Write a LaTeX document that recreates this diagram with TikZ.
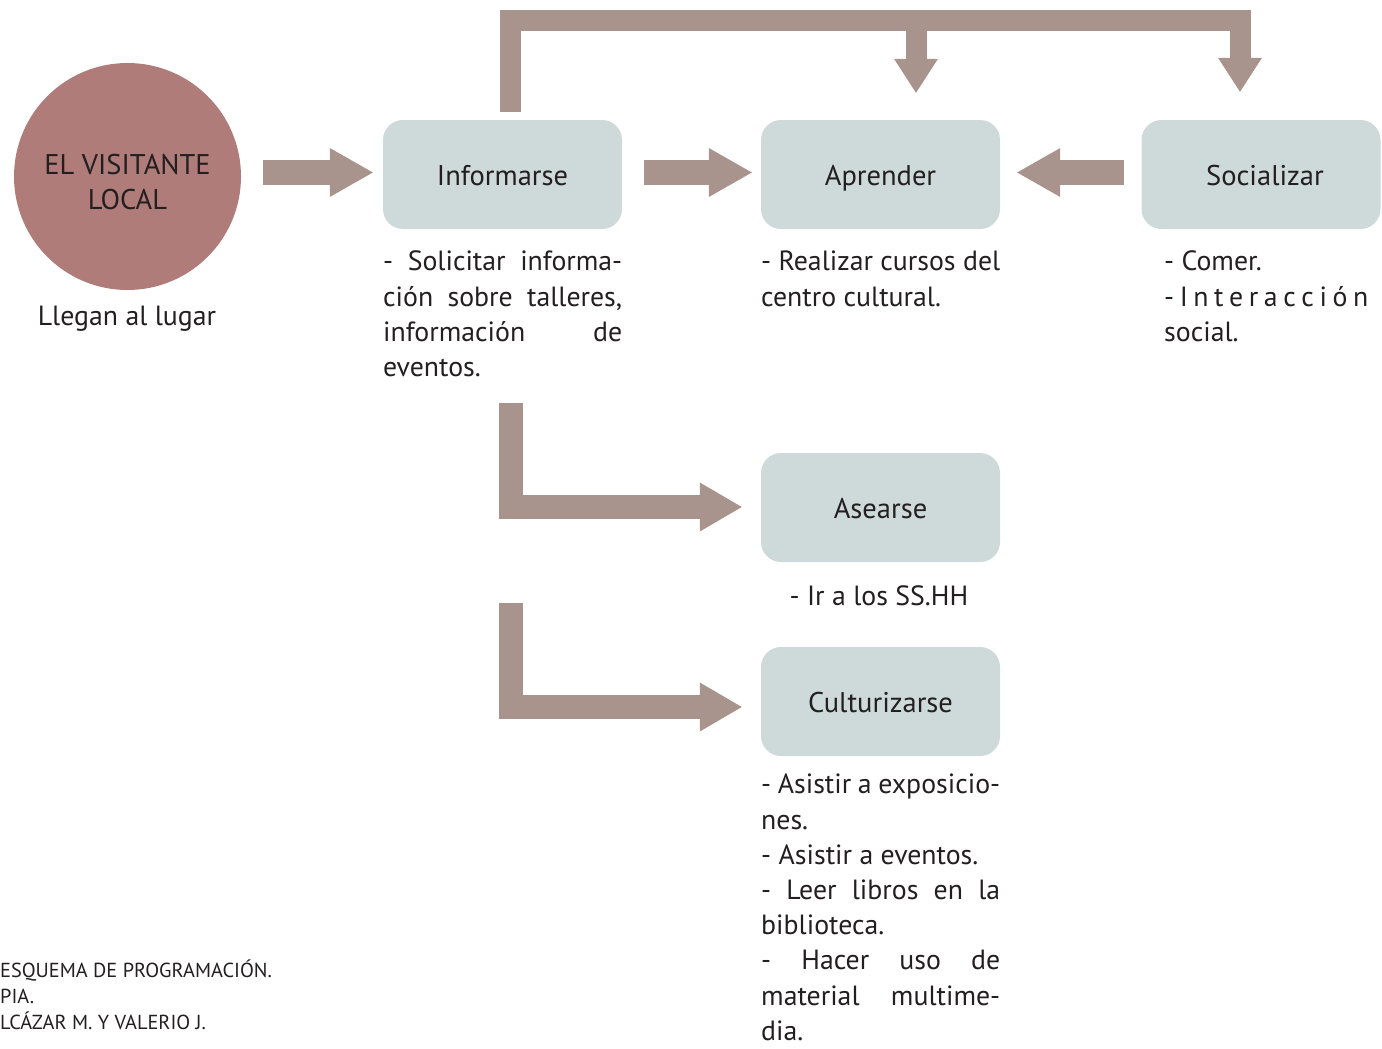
\documentclass[tikz,border=0pt]{standalone}
\usepackage{fontspec}
\setmainfont{PT Sans}
\usetikzlibrary{arrows.meta,calc}
\definecolor{circ}{HTML}{B07C7A}
\definecolor{arrc}{HTML}{A8938D}
\definecolor{boxc}{HTML}{CED9DA}
\definecolor{ink}{HTML}{231F20}
\tikzset{
  stagebox/.style={fill=boxc,draw=none,rounded corners=20pt,minimum width=239pt,minimum height=109pt,inner sep=0pt,text=ink,font=\fontsize{28.5}{32}\selectfont,text height=24pt,text depth=2pt},
  fatH/.style={draw=arrc,line width=25pt,-{Triangle[length=43pt,width=49pt,line width=0pt]}},
  fatL/.style={draw=arrc,line width=24pt,line join=miter,-{Triangle[length=42pt,width=49pt,line width=0pt]}},
  fatD/.style={draw=arrc,line width=21pt,line join=miter,-{Triangle[length=34pt,width=44pt,line width=0pt]}},
  desc/.style={text=ink,font=\fontsize{27.8}{35.2}\selectfont,inner sep=0pt,align=left,anchor=north west},
  foot/.style={text=ink,font=\fontsize{20.3}{26}\selectfont,inner sep=0pt,align=left,anchor=north west}
}
\newcommand\jl[2]{\makebox[#1pt][s]{#2}}
\begin{document}
\begin{tikzpicture}[x=1pt,y=-1pt]
\useasboundingbox (0,0) rectangle (1382,1049);
% nodes
\node[circle,fill=circ,minimum size=227pt,inner sep=0pt] (vis) at (127.5,176.5) {};
\node[text=ink,align=center,font=\fontsize{28.5}{35}\selectfont,inner sep=0pt] (vist) at (127.5,182.5) {EL VISITANTE\\LOCAL};
\node[text=ink,font=\fontsize{27.8}{30}\selectfont,inner sep=0pt] (lleg) at (127,319) {Llegan al lugar};
\node[stagebox] (inf) at (502.5,174.5) {Informarse};
\node[stagebox] (apr) at (880.5,174.5) {Aprender};
\node[stagebox] (soc) at (1261,174.5) {\hspace{8pt}Socializar};
\node[stagebox] (ase) at (880.5,507.5) {Asearse};
\node[stagebox] (cul) at (880.5,701.5) {Culturizarse};
% descriptions
\node[desc] (dinf) at (383,251) {\jl{239}{- Solicitar informa-}\\\jl{239}{ción sobre talleres,}\\\jl{239}{información de}\\eventos.};
\node[desc] (dapr) at (761,251) {- Realizar cursos del\\centro cultural.};
\node[desc] (dsoc) at (1164,251) {- Comer.\\\jl{204}{- I n t e r a c c i ó n}\\social.};
\node[desc,anchor=north] (dase) at (879,586) {- Ir a los SS.HH};
\node[desc] (dcul) at (761,774) {\jl{239}{- Asistir a exposicio-}\\nes.\\- Asistir a eventos.\\\jl{239}{- Leer libros en la}\\biblioteca.\\\jl{239}{- Hacer uso de}\\\jl{239}{material multime-}\\dia.};
\node[foot] (fig) at (0,960) {ESQUEMA DE PROGRAMACIÓN.\\PIA.\\LCÁZAR M. Y VALERIO J.};
% connectors
\draw[fatH] ($(vis.east)+(22,-4)$) -- ($(inf.west)+(-10,-2)$);
\draw[fatH] ($(inf.east)+(22,-2)$) -- ($(apr.west)+(-9,-2)$);
\draw[fatH] ($(soc.west)+(-17,-2)$) -- ($(apr.east)+(17,-2)$);
\coordinate (topy) at (0,20.5);
\draw[fatD] ($(inf.north)+(8,-8)$) |- (topy -| {$(soc.north)+(-21,0)$}) -- ($(soc.north)+(-21,-28)$);
\draw[fatD] (topy -| {$(apr.north)+(35.5,0)$}) -- ($(apr.north)+(35.5,-27)$);
\draw[fatL] ($(inf.south)+(8.5,174)$) |- ($(ase.west)+(-19,-0.5)$);
\draw[fatL] ($(inf.south)+(8.5,374)$) |- ($(cul.west)+(-19,5.5)$);
\end{tikzpicture}
\end{document}
